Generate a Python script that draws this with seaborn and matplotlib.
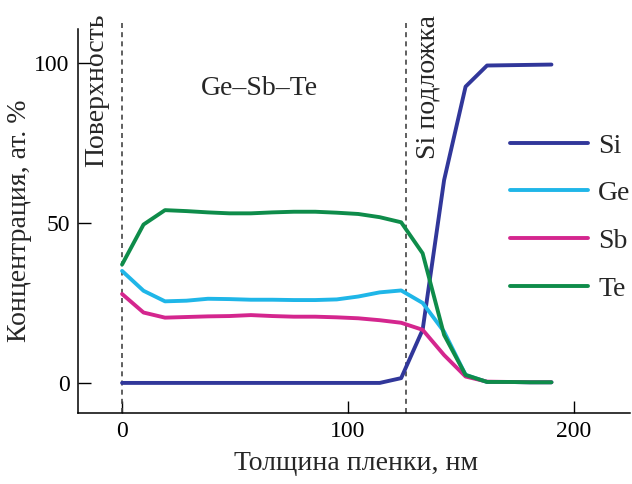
import matplotlib
matplotlib.use("Agg")
import matplotlib.pyplot as plt
import seaborn as sns
import pandas as pd

thickness = [0, 9.5, 19, 28.5, 38, 47.5, 57, 66.5, 76, 85.5, 95, 104.5, 114,
             123.5, 133, 142.5, 152, 161.5, 171, 180.5, 190]
si = [0, 0, 0, 0, 0, 0, 0, 0, 0, 0, 0, 0, 0,
      1.5, 16.6, 63.4, 92.6, 99.2, 99.3, 99.4, 99.5]
ge = [35, 28.8, 25.5, 25.7, 26.3, 26.2, 26.0, 26.0, 25.9, 25.9, 26.1, 27.0, 28.3,
      28.9, 25.0, 16.0, 2.5, 0.3, 0.3, 0.2, 0.2]
sb = [27.8, 22.0, 20.4, 20.6, 20.8, 20.9, 21.2, 20.9, 20.7, 20.7, 20.5, 20.2, 19.6,
      18.8, 16.6, 8.7, 2.0, 0.4, 0.3, 0.2, 0.2]
te = [37.0, 49.5, 54.0, 53.7, 53.3, 53.0, 53.0, 53.3, 53.5, 53.5, 53.2, 52.8, 51.8,
      50.2, 40.5, 15.0, 2.5, 0.3, 0.3, 0.2, 0.2]
elements = ["Si", "Ge", "Sb", "Te"]
colors = ["#31379a", "#1fb6e8", "#d4268e", "#0e8c4a"]

df = pd.concat([
    pd.DataFrame({"x": thickness, "y": vals, "el": name})
    for name, vals in zip(elements, [si, ge, sb, te])
])

sns.set_style("ticks")
plt.rcParams["font.family"] = ["Liberation Serif", "DejaVu Serif"]

fig = plt.figure(figsize=(6.32, 4.84), dpi=100)
ax = fig.add_axes([0.1234, 0.1467, 0.997 - 0.1234, 0.940 - 0.1467])

sns.lineplot(data=df, x="x", y="y", hue="el", hue_order=elements,
             palette=dict(zip(elements, colors)), linewidth=2.8, ax=ax,
             legend=True)

ax.set_xlim(-19.5, 224.8)
ax.set_ylim(-9.4, 110.6)
ax.set_xticks([0, 100, 200])
ax.set_yticks([0, 50, 100])
ax.tick_params(direction="in", length=9, width=1, labelsize=17, pad=6, colors="black")
for s in ["top", "right"]:
    ax.spines[s].set_visible(False)
for s in ["left", "bottom"]:
    ax.spines[s].set_linewidth(1.1)
    ax.spines[s].set_color("black")

for xv in [0, 125.5]:
    ax.axvline(xv, ymin=0, ymax=1.018, clip_on=False, color="#444444",
               linestyle=(0, (3, 2.5)), linewidth=1.2, zorder=1)

ax.set_xlabel("Толщина пленки, нм", fontsize=20)
ax.set_ylabel("Концентрация, ат. %", fontsize=20)
ax.xaxis.set_label_coords(0.503, -0.10)
ax.yaxis.set_label_coords(-0.083, 0.5)

ax.text(-11, 115.6, "Поверхность", rotation=90, ha="center", va="top", fontsize=20)
ax.text(135.4, 115.0, "Si подложка", rotation=90, ha="center", va="top", fontsize=20)
ax.text(61, 92, "Ge–Sb–Te", ha="center", va="center", fontsize=20)

leg = ax.legend(loc="upper left", bbox_to_anchor=(0.783, 0.729), frameon=False,
                borderpad=0, borderaxespad=0,
                handlelength=2.8, handletextpad=0.36, labelspacing=0.8, fontsize=20)
for h in leg.get_lines():
    h.set_linewidth(2.8)

fig.savefig("out.png", dpi=100)
